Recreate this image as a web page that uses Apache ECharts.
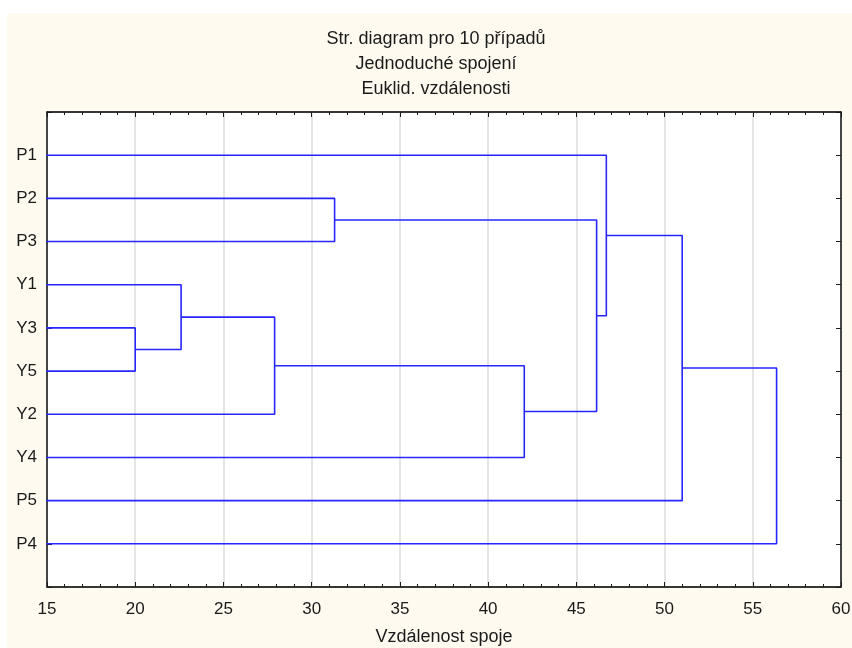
<!DOCTYPE html>
<html>
<head>
<meta charset="utf-8">
<script src="https://cdn.jsdelivr.net/npm/echarts@6/dist/echarts.min.js"></script>
<style>
html,body{margin:0;padding:0;background:#ffffff;}
#wrap{position:absolute;left:7px;top:13px;width:845px;height:635px;background:#fefaef;}
#chart{position:absolute;left:0;top:0;width:852px;height:648px;}
</style>
</head>
<body>
<div id="wrap"></div>
<div id="chart"></div>
<script>
// Leaf order (top to bottom) of the dendrogram
const leaves = ['P1','P2','P3','Y1','Y3','Y5','Y2','Y4','P5','P4'];
// Merges: left member, right member, linkage distance -> cluster C1..C9
const mergeLeft   = ['Y3','Y1','Y2','P2','Y4','C4','P1','P5','P4'];
const mergeRight  = ['Y5','C1','C2','P3','C3','C5','C6','C7','C8'];
const mergeHeight = [20.0, 22.6, 27.9, 31.3, 42.05, 46.15, 46.7, 51.0, 56.35];
// x-axis ticks
const xTicks = [15,20,25,30,35,40,45,50,55,60];
const titleLines = ['Str. diagram pro 10 případů','Jednoduché spojení','Euklid. vzdálenosti'];
const xAxisName = 'Vzdálenost spoje';

// build node positions (leaf: height 0, y = index; cluster: y = mean of children)
const nodes = {};
leaves.forEach((n,i)=>{ nodes[n] = {h:0, y:i}; });
const series = [];
mergeHeight.forEach((h,i)=>{
  const a = nodes[mergeLeft[i]], b = nodes[mergeRight[i]];
  nodes['C'+(i+1)] = {h:h, y:(a.y+b.y)/2};
  series.push({
    type:'line', clip:true, showSymbol:false, symbol:'none', silent:true,
    lineStyle:{color:'#2626ff', width:1.6},
    data:[[a.h,a.y],[h,a.y],[h,b.y],[b.h,b.y]],
    animation:false
  });
});

const FONT = 'Liberation Sans, Arial, sans-serif';
const TXT = '#1a1a1a';
const AX = '#1a1a1a';
const chart = echarts.init(document.getElementById('chart'), null, {renderer:'canvas'});
chart.setOption({
  backgroundColor:'transparent',
  animation:false,
  title:{
    text: titleLines.join('\n'),
    left: 431, top: 22, textAlign:'center',
    textStyle:{fontFamily:FONT, fontSize:18, fontWeight:'normal', color:TXT, lineHeight:25}
  },
  grid:{left:47, right:11, top:112, bottom:61, containLabel:false, outerBoundsMode:'none',
        show:true, backgroundColor:'#ffffff', borderColor:AX, borderWidth:1},
  xAxis:[{
    type:'value', position:'bottom', min:xTicks[0], max:xTicks[xTicks.length-1], interval:5,
    name:xAxisName, nameLocation:'middle', nameGap:41,
    nameTextStyle:{fontFamily:FONT, fontSize:18, color:TXT},
    axisLine:{show:true, onZero:false, lineStyle:{color:AX, width:1.5}},
    axisTick:{show:true, inside:true, length:5, lineStyle:{color:AX}},
    minorTick:{show:true, splitNumber:5, length:3, lineStyle:{color:AX}},
    axisLabel:{fontFamily:FONT, fontSize:17, color:TXT, margin:14},
    splitLine:{show:true, lineStyle:{color:'#dcdcdc', width:1.5}}
  },{
    type:'value', position:'top', min:xTicks[0], max:xTicks[xTicks.length-1], interval:5,
    axisLine:{show:true, onZero:false, lineStyle:{color:AX, width:1.5}},
    axisTick:{show:true, inside:true, length:5, lineStyle:{color:AX}},
    minorTick:{show:true, splitNumber:5, length:3, lineStyle:{color:AX}},
    axisLabel:{show:false}, splitLine:{show:false}
  }],
  yAxis:[{
    type:'value', position:'left', inverse:true, min:-1, max:leaves.length, interval:1,
    axisLine:{show:true, onZero:false, lineStyle:{color:AX, width:1.5}},
    axisTick:{show:true, inside:true, length:5, lineStyle:{color:AX}},
    axisLabel:{fontFamily:FONT, fontSize:17, color:TXT, margin:10,
      formatter:v=>leaves[v]!==undefined?leaves[v]:''},
    splitLine:{show:false}
  },{
    type:'value', position:'right', inverse:true, min:-1, max:leaves.length, interval:1,
    axisLine:{show:true, onZero:false, lineStyle:{color:AX, width:1.5}},
    axisTick:{show:true, inside:true, length:5, lineStyle:{color:AX}},
    axisLabel:{show:false}, splitLine:{show:false}
  }],
  series: series
});
</script>
</body>
</html>
